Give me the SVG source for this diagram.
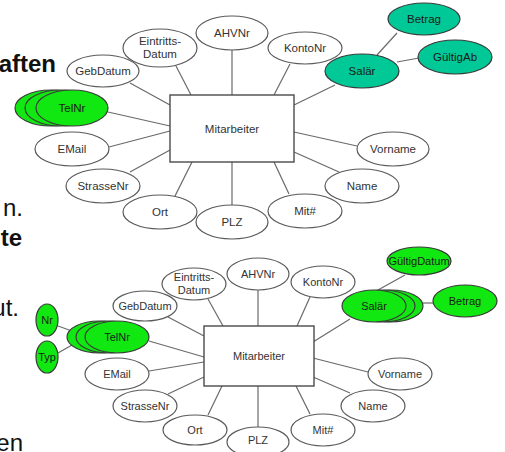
<svg xmlns="http://www.w3.org/2000/svg" width="505" height="452" viewBox="0 0 505 452">
  <style>
    .attr { fill: #ffffff; stroke: #5a5a5a; stroke-width: 1.2; }
    .teal { fill: #00c896; stroke: #3a3a3a; stroke-width: 1.2; }
    .lime { fill: #11e811; stroke: #3a3a3a; stroke-width: 1.2; }
    .ent { fill: #ffffff; stroke: #4a4a4a; stroke-width: 1.4; }
    .lbl { font-family: "Liberation Sans", Arial, sans-serif; font-size: 11.5px; fill: #333333; text-anchor: middle; dominant-baseline: central; }
    .lbl2 { font-family: "Liberation Sans", Arial, sans-serif; font-size: 11px; fill: #333333; text-anchor: middle; dominant-baseline: central; }
    .dark { fill: #1a1a1a; }
    .conn line { stroke: #6a6a6a; stroke-width: 1.2; }
    .slide { font-family: "Liberation Sans", Arial, sans-serif; font-size: 24px; fill: #111111; text-anchor: end; }
    .bold { font-weight: bold; }
  </style>

  <!-- slide text fragments at left edge -->
  <g id="slide-text">
    <text class="slide bold" x="56" y="72">aften</text>
    <text class="slide" x="23" y="216">n.</text>
    <text class="slide bold" x="22" y="246">te</text>
    <text class="slide" x="19" y="316">ut.</text>
    <text class="slide" x="23" y="451">en</text>
  </g>

  <!-- ===== upper model ===== -->
  <g id="conn-upper" class="conn">
    <line x1="232" y1="50" x2="232" y2="95"/>
    <line x1="176" y1="66" x2="191" y2="95"/>
    <line x1="290" y1="64" x2="274" y2="95"/>
    <line x1="130" y1="83" x2="170" y2="105"/>
    <line x1="108" y1="112" x2="170" y2="126"/>
    <line x1="109" y1="147" x2="170" y2="131"/>
    <line x1="130" y1="172" x2="170" y2="150"/>
    <line x1="175" y1="196" x2="192" y2="162"/>
    <line x1="232" y1="162" x2="232" y2="205"/>
    <line x1="274" y1="162" x2="289" y2="194"/>
    <line x1="294" y1="152" x2="339" y2="172"/>
    <line x1="294" y1="132" x2="357" y2="146"/>
    <line x1="294" y1="105" x2="335" y2="85"/>
    <line x1="377" y1="55" x2="397" y2="33"/>
    <line x1="397" y1="62" x2="419" y2="58"/>
  </g>

  <g id="u-mitarbeiter">
    <rect class="ent" x="170" y="95" width="124" height="67"/>
    <text class="lbl" x="232" y="129">Mitarbeiter</text>
  </g>
  <g id="u-ahvnr">
    <ellipse class="attr" cx="232" cy="33" rx="36" ry="17"/>
    <text class="lbl" x="232" y="33">AHVNr</text>
  </g>
  <g id="u-eintritt">
    <ellipse class="attr" cx="160" cy="48" rx="37" ry="19"/>
    <text class="lbl" x="160" y="41">Eintritts-</text>
    <text class="lbl" x="160" y="54">Datum</text>
  </g>
  <g id="u-kontonr">
    <ellipse class="attr" cx="305" cy="48" rx="37" ry="16"/>
    <text class="lbl" x="305" y="48">KontoNr</text>
  </g>
  <g id="u-gebdatum">
    <ellipse class="attr" cx="103" cy="71" rx="36" ry="16"/>
    <text class="lbl" x="103" y="71">GebDatum</text>
  </g>
  <g id="u-telnr">
    <ellipse class="lime" cx="51" cy="108" rx="36" ry="18"/>
    <ellipse class="lime" cx="61" cy="108" rx="36" ry="18"/>
    <ellipse class="lime" cx="72" cy="108" rx="36" ry="18"/>
    <text class="lbl dark" x="72" y="108">TelNr</text>
  </g>
  <g id="u-email">
    <ellipse class="attr" cx="72" cy="149" rx="37" ry="17"/>
    <text class="lbl" x="72" y="149">EMail</text>
  </g>
  <g id="u-strassenr">
    <ellipse class="attr" cx="103" cy="186" rx="37" ry="17"/>
    <text class="lbl" x="103" y="186">StrasseNr</text>
  </g>
  <g id="u-ort">
    <ellipse class="attr" cx="160" cy="212" rx="37" ry="17"/>
    <text class="lbl" x="160" y="212">Ort</text>
  </g>
  <g id="u-plz">
    <ellipse class="attr" cx="232" cy="222" rx="36" ry="17"/>
    <text class="lbl" x="232" y="222">PLZ</text>
  </g>
  <g id="u-mitnr">
    <ellipse class="attr" cx="305" cy="211" rx="37" ry="17"/>
    <text class="lbl" x="305" y="211">Mit#</text>
  </g>
  <g id="u-name">
    <ellipse class="attr" cx="362" cy="186" rx="37" ry="17"/>
    <text class="lbl" x="362" y="186">Name</text>
  </g>
  <g id="u-vorname">
    <ellipse class="attr" cx="393" cy="149" rx="36" ry="17"/>
    <text class="lbl" x="393" y="149">Vorname</text>
  </g>
  <g id="u-salaer">
    <ellipse class="teal" cx="362" cy="71" rx="37" ry="17"/>
    <text class="lbl dark" x="362" y="71">Salär</text>
  </g>
  <g id="u-betrag">
    <ellipse class="teal" cx="424" cy="19" rx="36" ry="16"/>
    <text class="lbl dark" x="424" y="19">Betrag</text>
  </g>
  <g id="u-gueltigab">
    <ellipse class="teal" cx="455" cy="57" rx="37" ry="17"/>
    <text class="lbl dark" x="455" y="57">GültigAb</text>
  </g>

  <!-- ===== lower model ===== -->
  <g id="conn-lower" class="conn">
    <line x1="258" y1="290" x2="258" y2="326"/>
    <line x1="208" y1="299" x2="223" y2="326"/>
    <line x1="310" y1="297" x2="297" y2="326"/>
    <line x1="168" y1="317" x2="204" y2="336"/>
    <line x1="149" y1="341" x2="204" y2="357"/>
    <line x1="149" y1="371" x2="204" y2="362"/>
    <line x1="168" y1="394" x2="204" y2="377"/>
    <line x1="208" y1="415" x2="222" y2="386"/>
    <line x1="258" y1="386" x2="258" y2="427"/>
    <line x1="296" y1="386" x2="310" y2="414"/>
    <line x1="313" y1="377" x2="350" y2="393"/>
    <line x1="313" y1="358" x2="368" y2="372"/>
    <line x1="313" y1="342" x2="350" y2="319"/>
    <line x1="378" y1="290" x2="405" y2="275"/>
    <line x1="423" y1="303" x2="433" y2="303"/>
    <line x1="58" y1="326" x2="72" y2="331"/>
    <line x1="58" y1="353" x2="72" y2="345"/>
  </g>

  <g id="l-mitarbeiter">
    <rect class="ent" x="204" y="326" width="110" height="60"/>
    <text class="lbl2" x="259" y="356">Mitarbeiter</text>
  </g>
  <g id="l-ahvnr">
    <ellipse class="attr" cx="258" cy="274" rx="31" ry="16"/>
    <text class="lbl2" x="258" y="274">AHVNr</text>
  </g>
  <g id="l-eintritt">
    <ellipse class="attr" cx="194" cy="284" rx="32" ry="16"/>
    <text class="lbl2" x="194" y="277">Eintritts-</text>
    <text class="lbl2" x="194" y="290">Datum</text>
  </g>
  <g id="l-kontonr">
    <ellipse class="attr" cx="323" cy="282" rx="32" ry="16"/>
    <text class="lbl2" x="323" y="282">KontoNr</text>
  </g>
  <g id="l-gebdatum">
    <ellipse class="attr" cx="145" cy="306" rx="32" ry="15"/>
    <text class="lbl2" x="145" y="306">GebDatum</text>
  </g>
  <g id="l-telnr">
    <ellipse class="lime" cx="99" cy="337" rx="32" ry="16"/>
    <ellipse class="lime" cx="108" cy="337" rx="32" ry="16"/>
    <ellipse class="lime" cx="117" cy="337" rx="32" ry="16"/>
    <text class="lbl2 dark" x="117" y="337">TelNr</text>
  </g>
  <g id="l-nr">
    <ellipse class="lime" cx="47" cy="320" rx="11" ry="16"/>
    <text class="lbl2 dark" x="47" y="320">Nr</text>
  </g>
  <g id="l-typ">
    <ellipse class="lime" cx="47" cy="357" rx="11" ry="16"/>
    <text class="lbl2 dark" x="47" y="357">Typ</text>
  </g>
  <g id="l-email">
    <ellipse class="attr" cx="117" cy="374" rx="32" ry="16"/>
    <text class="lbl2" x="117" y="374">EMail</text>
  </g>
  <g id="l-strassenr">
    <ellipse class="attr" cx="145" cy="406" rx="32" ry="16"/>
    <text class="lbl2" x="145" y="406">StrasseNr</text>
  </g>
  <g id="l-ort">
    <ellipse class="attr" cx="195" cy="430" rx="32" ry="15"/>
    <text class="lbl2" x="195" y="430">Ort</text>
  </g>
  <g id="l-plz">
    <ellipse class="attr" cx="258" cy="442" rx="31" ry="15"/>
    <text class="lbl2" x="258" y="440">PLZ</text>
  </g>
  <g id="l-mitnr">
    <ellipse class="attr" cx="323" cy="430" rx="32" ry="16"/>
    <text class="lbl2" x="323" y="430">Mit#</text>
  </g>
  <g id="l-name">
    <ellipse class="attr" cx="373" cy="406" rx="32" ry="16"/>
    <text class="lbl2" x="373" y="406">Name</text>
  </g>
  <g id="l-vorname">
    <ellipse class="attr" cx="400" cy="374" rx="32" ry="16"/>
    <text class="lbl2" x="400" y="374">Vorname</text>
  </g>
  <g id="l-salaer">
    <ellipse class="lime" cx="391" cy="306" rx="32" ry="16"/>
    <ellipse class="lime" cx="383" cy="306" rx="32" ry="16"/>
    <ellipse class="lime" cx="374" cy="306" rx="32" ry="16"/>
    <text class="lbl2 dark" x="374" y="306">Salär</text>
  </g>
  <g id="l-gueltigdatum">
    <ellipse class="lime" cx="419" cy="261" rx="32" ry="14"/>
    <text class="lbl2 dark" x="419" y="261">GültigDatum</text>
  </g>
  <g id="l-betrag">
    <ellipse class="lime" cx="465" cy="301" rx="32" ry="16"/>
    <text class="lbl2 dark" x="465" y="301">Betrag</text>
  </g>
</svg>
